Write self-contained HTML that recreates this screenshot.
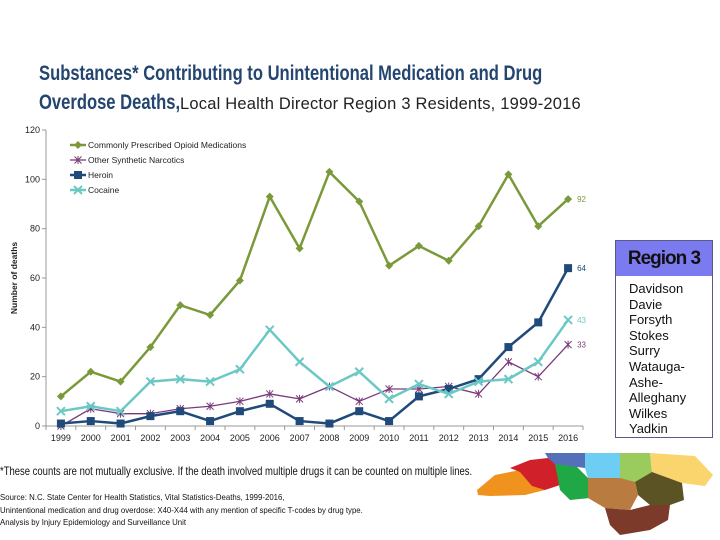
<!DOCTYPE html>
<html><head><meta charset="utf-8"><style>
body{margin:0;width:720px;height:540px;background:#fff;position:relative;overflow:hidden;font-family:"Liberation Sans",sans-serif}
.t{position:absolute;left:39px;white-space:nowrap}
.b{display:inline-block;color:#24456f;font-weight:bold;font-size:21px;transform:scaleX(0.79);transform-origin:left}
.n{position:absolute;font-size:16.5px;color:#222;letter-spacing:0.2px;white-space:nowrap}
.note{position:absolute;left:0;color:#111;white-space:nowrap;transform-origin:left}
</style></head><body>
<div class="t" style="top:62px"><span class="b">Substances* Contributing to Unintentional Medication and Drug</span></div>
<div class="t" style="top:91px"><span class="b">Overdose Deaths,</span></div>
<div class="n" style="left:180px;top:95px">Local Health Director Region 3 Residents, 1999-2016</div>
<svg id="chart" width="720" height="540" style="position:absolute;left:0;top:0"></svg>
<div style="position:absolute;left:615px;top:240px;width:96px;height:196px;border:1px solid #5a5a8a;background:#fff">
<div style="background:#7b7bef;height:35px;font-weight:bold;font-size:19px;line-height:36px;text-align:center;letter-spacing:-1px;color:#111">Region 3</div>
<div style="padding:5px 0 0 13px;font-size:13px;line-height:15.6px;color:#111">Davidson<br>Davie<br>Forsyth<br>Stokes<br>Surry<br>Watauga-<br>Ashe-<br>Alleghany<br>Wilkes<br>Yadkin</div></div>
<div class="note" style="top:464px;font-size:12px;transform:scaleX(0.79)">*These counts are not mutually exclusive. If the death involved multiple drugs it can be counted on multiple lines.</div>
<div class="note" style="top:491px;font-size:8.5px;line-height:12.5px;transform:scaleX(0.92)">Source: N.C. State Center for Health Statistics, Vital Statistics-Deaths, 1999-2016,<br>Unintentional medication and drug overdose: X40-X44 with any mention of specific T-codes by drug type.<br>Analysis by Injury Epidemiology and Surveillance Unit</div>
<svg width="250" height="90" style="position:absolute;left:470px;top:450px">
<polygon points="7,40 25,25 50,20 72,22 75,40 55,45 20,46 8,45" fill="#f0921e"/>
<polygon points="40,18 60,10 78,8 88,14 90,35 75,40 62,36 50,22" fill="#d0202a"/>
<polygon points="85,14 105,15 118,28 120,48 100,50 90,40" fill="#1fa845"/>
<polygon points="75,3 115,3 115,18 100,16 85,14 78,8" fill="#5470b8"/>
<polygon points="115,3 150,3 150,28 118,28 115,18" fill="#6ecdf2"/>
<polygon points="150,3 180,3 182,22 172,32 152,32 150,28" fill="#9acb5c"/>
<polygon points="180,3 225,6 243,25 235,36 212,33 182,22" fill="#fad56d"/>
<polygon points="165,32 182,22 212,33 214,50 200,55 180,55 168,45" fill="#5b5324"/>
<polygon points="118,28 150,28 165,32 168,45 160,60 135,58 118,48" fill="#b97b3f"/>
<polygon points="135,58 160,60 180,55 200,55 198,70 180,80 150,85 140,75" fill="#7b3a2a"/>
</svg>
<script>
const years=[1999,2000,2001,2002,2003,2004,2005,2006,2007,2008,2009,2010,2011,2012,2013,2014,2015,2016];
const opioid=[12,22,18,32,49,45,59,93,72,103,91,65,73,67,81,102,81,92];
const synthetic=[0,7,5,5,7,8,10,13,11,16,10,15,15,16,13,26,20,33];
const heroin=[1,2,1,4,6,2,6,9,2,1,6,2,12,15,19,32,42,64];
const cocaine=[6,8,6,18,19,18,23,39,26,16,22,11,17,13,18,19,26,43];
const yTicks=[0,20,40,60,80,100,120];
const NS="http://www.w3.org/2000/svg";
const svg=document.getElementById('chart');
const x0=46,x1=583,yb=426,yt=130;
const step=(x1-x0)/years.length;
const X=i=>x0+step*(i+0.5);
const Y=v=>yb-(v/120)*(yb-yt);
function mk(t,a,p){const e=document.createElementNS(NS,t);for(const k in a)e.setAttribute(k,a[k]);(p||svg).appendChild(e);return e;}
let ax=mk('line',{x1:x0,y1:yt,x2:x0,y2:yb,stroke:'#999'});


let bx=mk('line',{x1:x0,y1:yb,x2:x1,y2:yb,stroke:'#999'});


yTicks.forEach(v=>{mk('line',{x1:x0-4,x2:x0,y1:Y(v),y2:Y(v),stroke:'#999'});
let t=mk('text',{x:x0-6,y:Y(v)+3,'text-anchor':'end','font-size':9,fill:'#222'});t.textContent=v;

});
years.forEach((yr,i)=>{mk('line',{x1:x0+step*i,x2:x0+step*i,y1:yb,y2:yb+4,stroke:'#999'});
let t=mk('text',{x:X(i),y:yb+15,'text-anchor':'middle','font-size':9,fill:'#222'});t.textContent=yr;

});
mk('line',{x1:x1,x2:x1,y1:yb,y2:yb+4,stroke:'#999'});
let yl=mk('text',{transform:'translate(17,278) rotate(-90)','text-anchor':'middle','font-size':8.5,'font-weight':'bold',fill:'#222'});yl.textContent='Number of deaths';


function marker(kind,cx,cy,col,g){
 if(kind==='diamond')mk('polygon',{points:`${cx},${cy-4} ${cx+4},${cy} ${cx},${cy+4} ${cx-4},${cy}`,fill:col},g);
 else if(kind==='square')mk('rect',{x:cx-4,y:cy-4,width:8,height:8,fill:col},g);
 else if(kind==='star'){mk('path',{d:`M${cx-3.5},${cy-3.5}L${cx+3.5},${cy+3.5}M${cx-3.5},${cy+3.5}L${cx+3.5},${cy-3.5}M${cx},${cy-4}L${cx},${cy+4}`,stroke:col,'stroke-width':1},g);}
 else mk('path',{d:`M${cx-4},${cy-4}L${cx+4},${cy+4}M${cx-4},${cy+4}L${cx+4},${cy-4}`,stroke:col,'stroke-width':2},g);
}
const series=[
 {name:'Commonly Prescribed Opioid Medications',data:opioid,col:'#7a9a3a',w:2.5,m:'diamond',id:'opioid'},
 {name:'Other Synthetic Narcotics',data:synthetic,col:'#7a3a7a',w:1.3,m:'star',id:'synthetic'},
 {name:'Heroin',data:heroin,col:'#1f4a7a',w:2.5,m:'square',id:'heroin'},
 {name:'Cocaine',data:cocaine,col:'#6cc8c4',w:2.5,m:'x',id:'cocaine'}];
series.forEach((s,k)=>{
 const g=mk('g',{});
 
 
 mk('polyline',{points:s.data.map((v,i)=>X(i)+','+Y(v)).join(' '),fill:'none',stroke:s.col,'stroke-width':s.w,'stroke-linejoin':'round'},g);
 s.data.forEach((v,i)=>marker(s.m,X(i),Y(v),s.col,g));
 const last=s.data.length-1;
 let lbl=mk('text',{x:X(last)+9,y:Y(s.data[last])+3,'font-size':8,fill:s.col},g);lbl.textContent=s.data[last];
 
 
 const lg=mk('g',{});
 
 
 const ly=145+k*15;
 mk('line',{x1:70,x2:86,y1:ly,y2:ly,stroke:s.col,'stroke-width':s.w},lg);
 marker(s.m,78,ly,s.col,lg);
 let lt=mk('text',{x:88,y:ly+3,'font-size':8.5,fill:'#222'},lg);lt.textContent=s.name;
});
</script>
</body></html>
